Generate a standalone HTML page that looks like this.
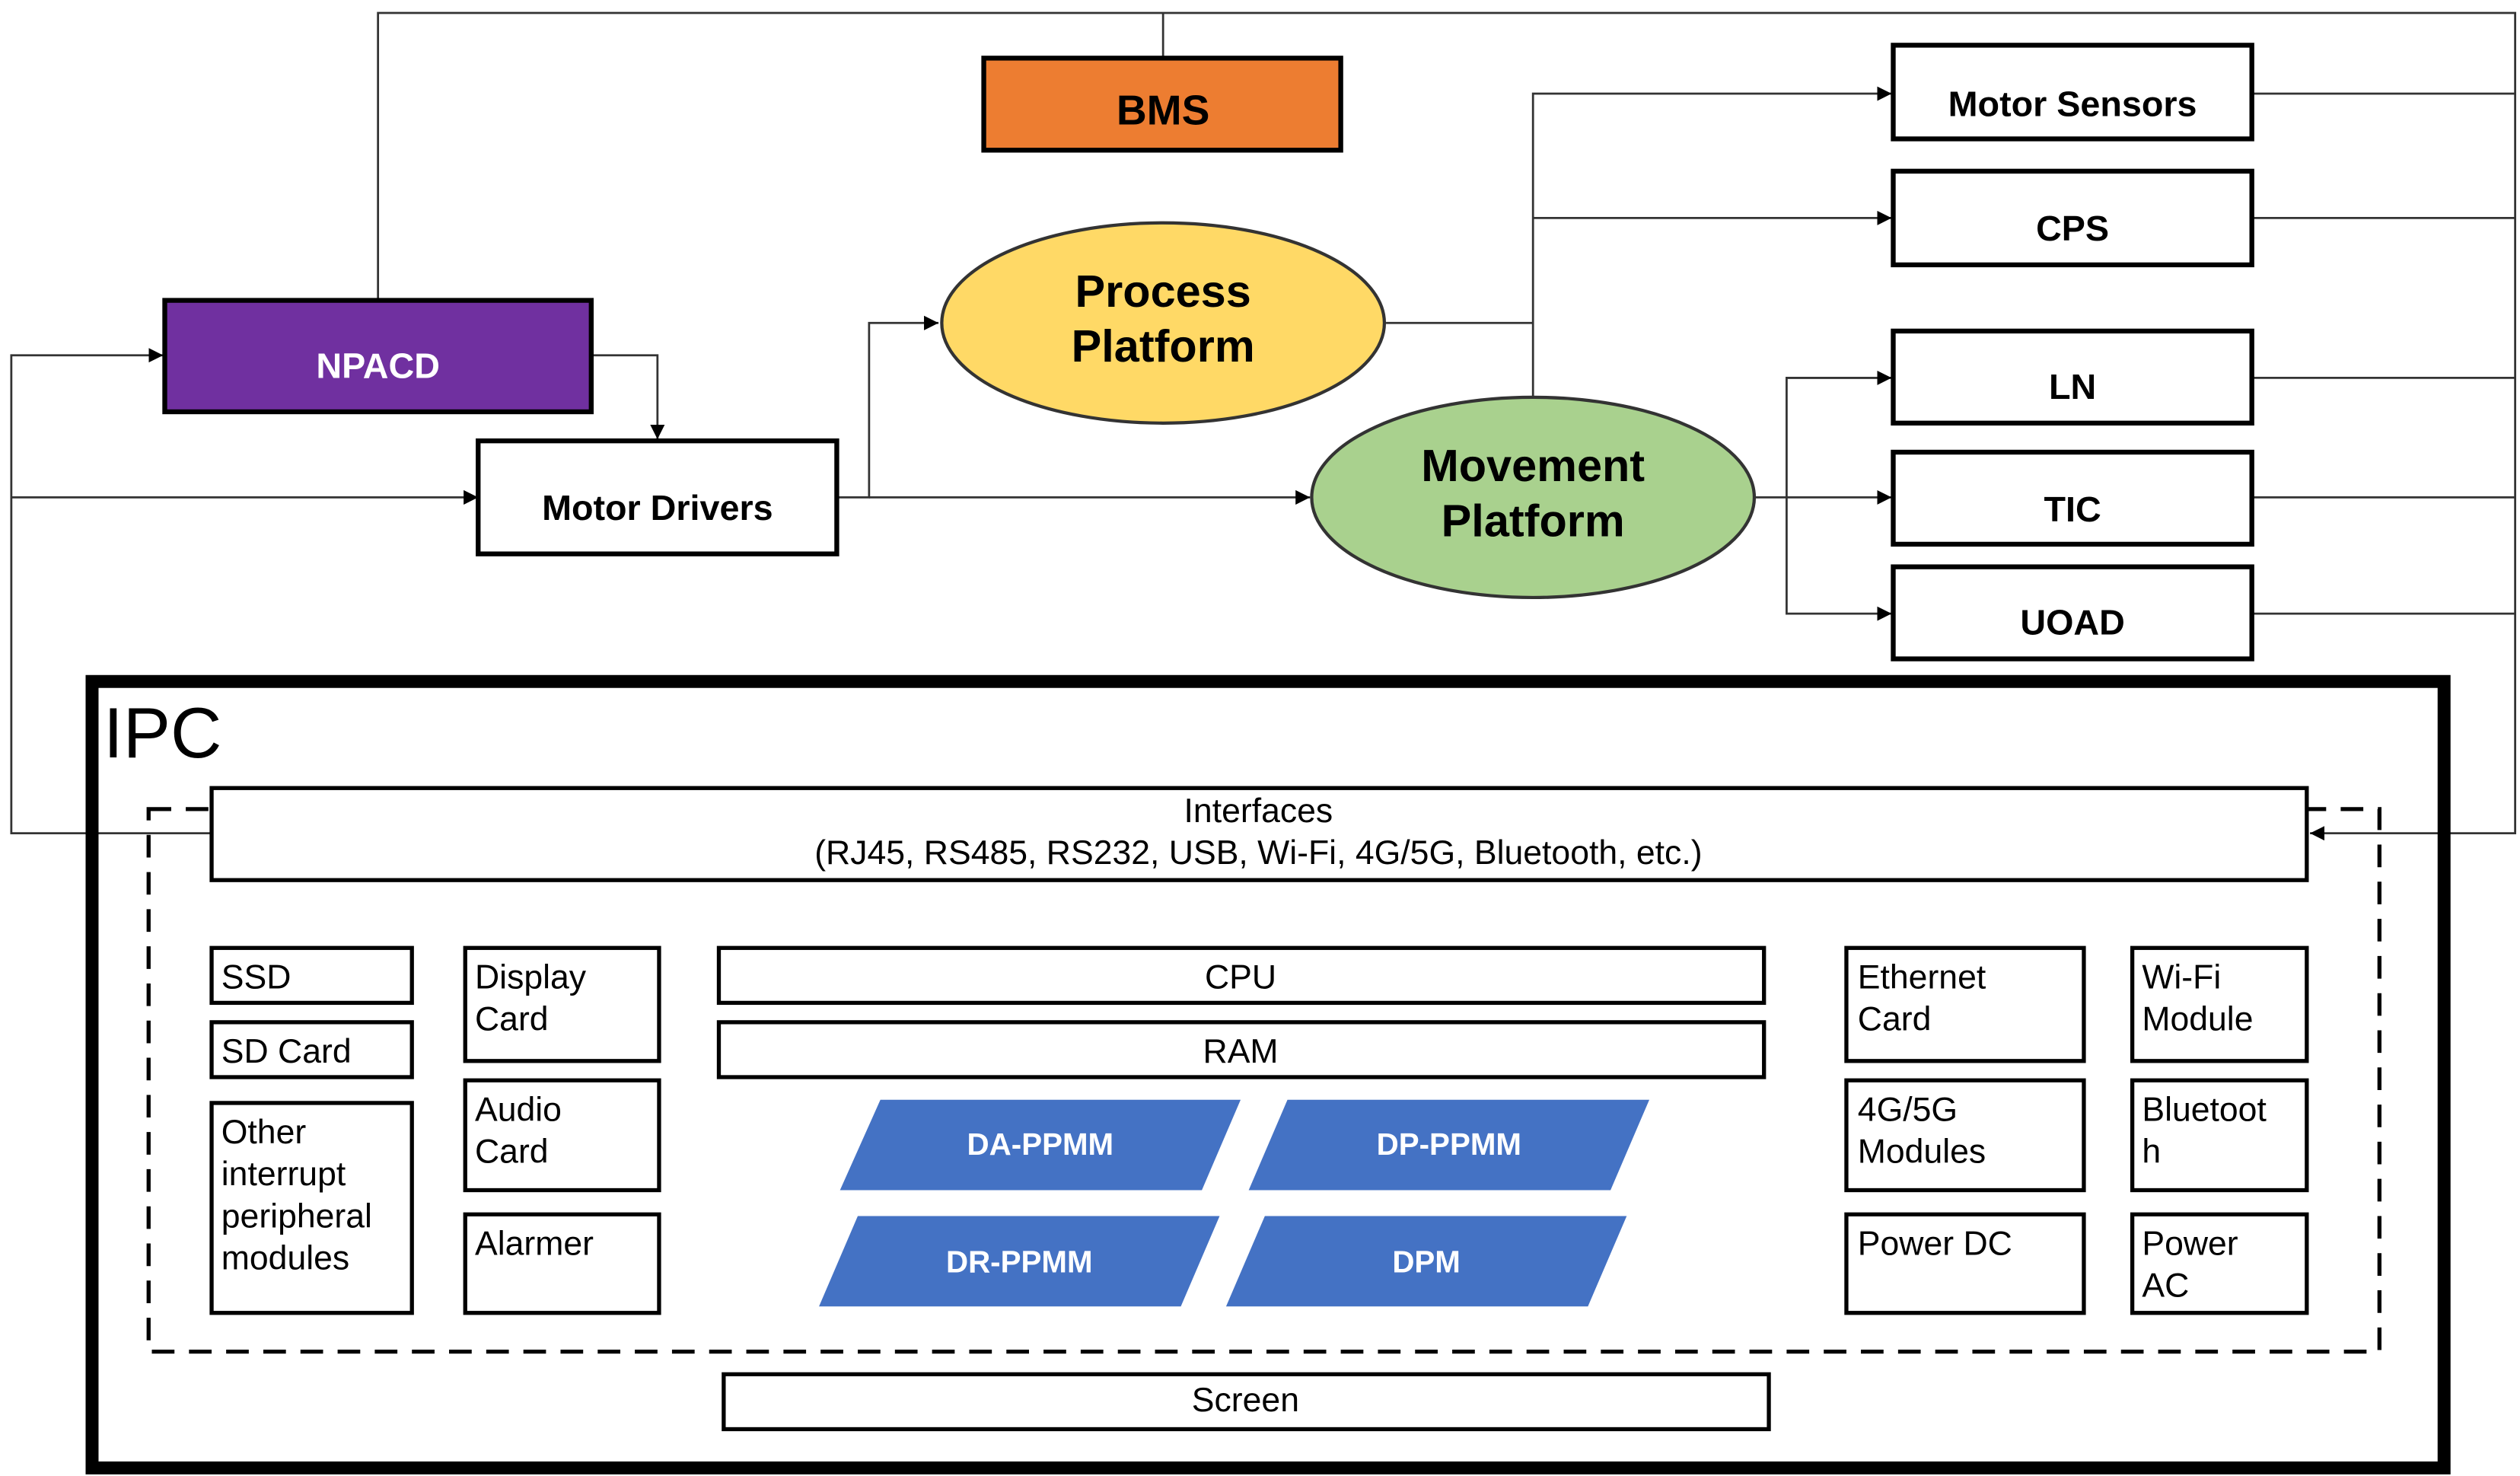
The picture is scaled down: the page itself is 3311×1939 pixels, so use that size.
<!DOCTYPE html>
<html><head><meta charset="utf-8"><style>
html,body{margin:0;padding:0;background:#fff;}
svg{display:block;}
text{font-family:"Liberation Sans",sans-serif;}
</style></head><body>
<svg width="3311" height="1939" viewBox="0 0 1560 914" preserveAspectRatio="none" xmlns="http://www.w3.org/2000/svg">
<defs>
<marker id="a" viewBox="0 0 10 10" refX="10" refY="5" markerWidth="9" markerHeight="9" markerUnits="userSpaceOnUse" orient="auto"><path d="M0,0L10,5L0,10z" fill="#000"/></marker>
</defs>
<g fill="none" stroke="#333" stroke-width="1.3">
<!-- top line -->
<polyline points="234,186 234,8 1557,8 1557,516 1430,516" marker-end="url(#a)"/>
<line x1="720" y1="8" x2="720" y2="35"/>
<!-- left loop -->
<polyline points="131,516 7,516 7,220 101,220" marker-end="url(#a)"/>
<polyline points="7,308 296,308" marker-end="url(#a)"/>
<polyline points="366,220 407,220 407,272" marker-end="url(#a)"/>
<polyline points="518,308 538,308 538,200 581,200" marker-end="url(#a)"/>
<polyline points="538,308 811,308" marker-end="url(#a)"/>
<polyline points="858,200 949,200"/>
<polyline points="949,246 949,58 1171,58" marker-end="url(#a)"/>
<polyline points="949,135 1171,135" marker-end="url(#a)"/>
<polyline points="1086,308 1171,308" marker-end="url(#a)"/>
<polyline points="1171,234 1106,234 1106,380 1171,380" marker-end="url(#a)"/>
<line x1="1106" y1="234" x2="1171" y2="234" marker-end="url(#a)"/>
<line x1="1394" y1="58" x2="1557" y2="58"/>
<line x1="1394" y1="135" x2="1557" y2="135"/>
<line x1="1394" y1="234" x2="1557" y2="234"/>
<line x1="1394" y1="308" x2="1557" y2="308"/>
<line x1="1394" y1="380" x2="1557" y2="380"/>
</g>
<g stroke="#000" stroke-width="3">
<rect x="609" y="36" width="221" height="57" fill="#ED7D31"/>
<rect x="102" y="186" width="264" height="69" fill="#7030A0"/>
<rect x="296" y="273" width="222" height="70" fill="#fff"/>
<rect x="1172" y="28" width="222" height="58" fill="#fff"/>
<rect x="1172" y="106" width="222" height="58" fill="#fff"/>
<rect x="1172" y="205" width="222" height="57" fill="#fff"/>
<rect x="1172" y="280" width="222" height="57" fill="#fff"/>
<rect x="1172" y="351" width="222" height="57" fill="#fff"/>
</g>
<ellipse cx="720" cy="200" rx="137" ry="62" fill="#FFD966" stroke="#333" stroke-width="2"/>
<ellipse cx="949" cy="308" rx="137" ry="62" fill="#A9D18E" stroke="#333" stroke-width="2"/>
<g font-weight="bold" text-anchor="middle" font-size="22">
<text x="720" y="77" font-size="26">BMS</text>
<text x="234" y="234" fill="#fff">NPACD</text>
<text x="407" y="322">Motor Drivers</text>
<text x="1283" y="72">Motor Sensors</text>
<text x="1283" y="149">CPS</text>
<text x="1283" y="247">LN</text>
<text x="1283" y="323">TIC</text>
<text x="1283" y="393">UOAD</text>
<text x="720" y="190" font-size="28">Process</text>
<text x="720" y="224" font-size="28">Platform</text>
<text x="949" y="298" font-size="28">Movement</text>
<text x="949" y="332" font-size="28">Platform</text>
</g>
<!-- IPC -->
<rect x="57" y="422" width="1456" height="487" fill="none" stroke="#000" stroke-width="8"/>
<text x="64" y="469" font-size="44">IPC</text>
<rect x="92" y="501" width="1381" height="336" fill="none" stroke="#000" stroke-width="2.5" stroke-dasharray="14,9"/>
<g fill="#fff" stroke="#000" stroke-width="2.5">
<rect x="131" y="488" width="1297" height="57"/>
<rect x="131" y="587" width="124" height="34"/>
<rect x="131" y="633" width="124" height="34"/>
<rect x="131" y="683" width="124" height="130"/>
<rect x="288" y="587" width="120" height="70"/>
<rect x="288" y="669" width="120" height="68"/>
<rect x="288" y="752" width="120" height="61"/>
<rect x="445" y="587" width="647" height="34"/>
<rect x="445" y="633" width="647" height="34"/>
<rect x="1143" y="587" width="147" height="70"/>
<rect x="1143" y="669" width="147" height="68"/>
<rect x="1143" y="752" width="147" height="61"/>
<rect x="1320" y="587" width="108" height="70"/>
<rect x="1320" y="669" width="108" height="68"/>
<rect x="1320" y="752" width="108" height="61"/>
<rect x="448" y="851" width="647" height="34"/>
</g>
<g fill="#4472C4">
<polygon points="545,681 768,681 744,737 520,737"/>
<polygon points="797,681 1021,681 997,737 773,737"/>
<polygon points="531,753 755,753 731,809 507,809"/>
<polygon points="783,753 1007,753 983,809 759,809"/>
</g>
<g fill="#fff" font-weight="bold" font-size="19" text-anchor="middle">
<text x="644" y="715">DA-PPMM</text>
<text x="897" y="715">DP-PPMM</text>
<text x="631" y="788">DR-PPMM</text>
<text x="883" y="788">DPM</text>
</g>
<g font-size="21">
<text x="779" y="509" text-anchor="middle">Interfaces</text>
<text x="779" y="535" text-anchor="middle">(RJ45, RS485, RS232, USB, Wi-Fi, 4G/5G, Bluetooth, etc.)</text>
<text x="137" y="612">SSD</text>
<text x="137" y="658">SD Card</text>
<text x="137" y="708">Other</text>
<text x="137" y="734">interrupt</text>
<text x="137" y="760">peripheral</text>
<text x="137" y="786">modules</text>
<text x="294" y="612">Display</text>
<text x="294" y="638">Card</text>
<text x="294" y="694">Audio</text>
<text x="294" y="720">Card</text>
<text x="294" y="777">Alarmer</text>
<text x="768" y="612" text-anchor="middle">CPU</text>
<text x="768" y="658" text-anchor="middle">RAM</text>
<text x="1150" y="612">Ethernet</text>
<text x="1150" y="638">Card</text>
<text x="1150" y="694">4G/5G</text>
<text x="1150" y="720">Modules</text>
<text x="1150" y="777">Power DC</text>
<text x="1326" y="612">Wi-Fi</text>
<text x="1326" y="638">Module</text>
<text x="1326" y="694">Bluetoot</text>
<text x="1326" y="720">h</text>
<text x="1326" y="777">Power</text>
<text x="1326" y="803">AC</text>
<text x="771" y="874" text-anchor="middle">Screen</text>
</g>
</svg>
</body></html>
